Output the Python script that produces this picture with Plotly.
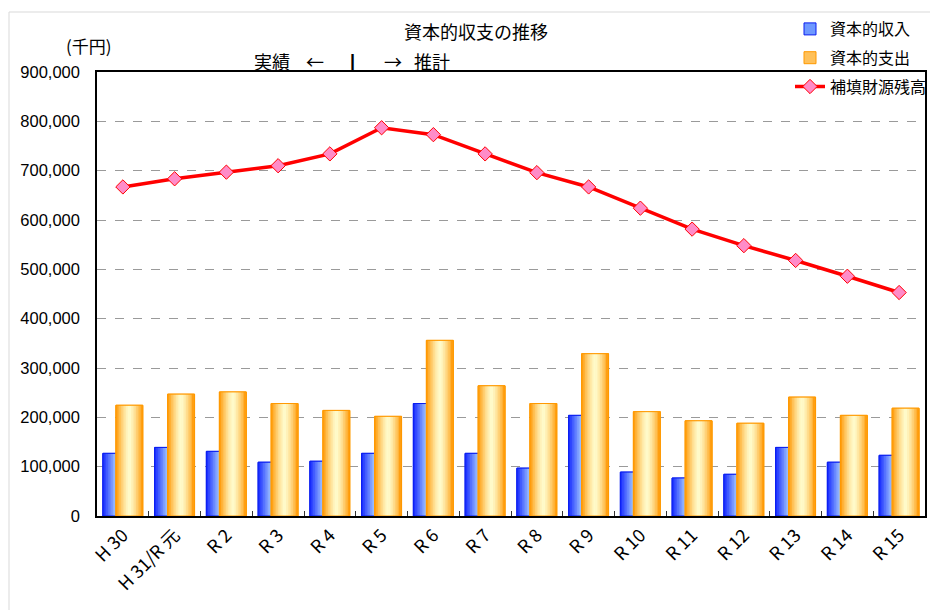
import plotly.graph_objects as go

categories = ["H 30", "H 31/R 元", "R 2", "R 3", "R 4", "R 5", "R 6", "R 7",
              "R 8", "R 9", "R 10", "R 11", "R 12", "R 13", "R 14", "R 15"]
income = [127000, 139000, 131000, 109000, 111000, 127000, 228000, 127000,
          97000, 204000, 89000, 77000, 84500, 139000, 109000, 123000]
expenditure = [224500, 247000, 251500, 228000, 214000, 202000, 356000, 264000,
               228000, 329000, 211500, 193000, 188000, 241000, 204000, 218500]
balance = [667000, 683500, 697000, 710000, 734000, 787000, 773000, 734000,
           696000, 667000, 624000, 581500, 548000, 518000, 486000, 453000]

series_names = ["資本的収入", "資本的支出", "補填財源残高"]
y_ticks = [0, 100000, 200000, 300000, 400000, 500000, 600000, 700000, 800000, 900000]

JP = "Noto Sans CJK JP"
NUM = "Liberation Sans, Arial, sans-serif"

OFF = 8  # page body margin
W, H = 938 - OFF, 610 - OFF
L, R, T, B = 97 - OFF, 925 - OFF, 72 - OFF, 516 - OFF


def px(x):
    return (x - OFF - L) / (R - L)


def py(y):
    return (B - (y - OFF)) / (B - T)


def gradient(edge, center, n, p):
    cols = []
    for i in range(n):
        t = (i + 0.5) / n
        c = abs(2 * t - 1) ** p
        rgb = [round(center[k] + (edge[k] - center[k]) * c) for k in range(3)]
        cols.append("rgb(%d,%d,%d)" % tuple(rgb))
    return cols


fig = go.Figure()

BW = 0.52
N = 16


def add_bar_series(values, name, base_off, edge, center, p, legend_col, line_col):
    fig.add_trace(go.Bar(x=categories, y=values, name=name, offset=base_off, width=BW,
                         marker=dict(color=legend_col, line=dict(color=line_col, width=1)),
                         legendgroup=name))
    cols = gradient(edge, center, N, p)
    sw = BW / N
    for i, c in enumerate(cols):
        w = sw + (0.012 if i < N - 1 else 0)
        fig.add_trace(go.Bar(x=categories, y=values, offset=base_off + i * sw, width=w,
                             marker=dict(color=c, line=dict(width=0)),
                             showlegend=False, hoverinfo="skip", legendgroup=name))
    fig.add_trace(go.Bar(x=categories, y=values, offset=base_off, width=BW,
                         marker=dict(color="rgba(0,0,0,0)", line=dict(color=line_col, width=1)),
                         showlegend=False, hoverinfo="skip", legendgroup=name))


add_bar_series(income, series_names[0], -0.387, (20, 40, 255), (168, 206, 255), 1.0,
               "#6E98FF", "#0A1EF0")
add_bar_series(expenditure, series_names[1], -0.135, (255, 150, 0), (255, 252, 205), 1.4,
               "#FFC15A", "#FF9900")

fig.add_trace(go.Scatter(x=categories, y=balance, name=series_names[2], mode="lines+markers",
                         line=dict(color="#FF0000", width=3.5),
                         marker=dict(symbol="diamond", size=11, color="#FF8CC8",
                                     line=dict(color="#FF0000", width=1)),
                         legendgroup=series_names[2]))


def label(text, x, y, anchor="left", size=18, family=JP, weight="normal"):
    return dict(text=text, x=px(x), y=py(y), xref="paper", yref="paper",
                xanchor=anchor, yanchor="middle", showarrow=False,
                font=dict(family=family, size=size, color="black", weight=weight))


fig.update_layout(
    width=W, height=H,
    margin=dict(l=L, r=W - R, t=T, b=H - B, pad=0, autoexpand=False),
    paper_bgcolor="white", plot_bgcolor="white",
    barmode="overlay",
    font=dict(family=NUM, size=14, color="black"),
    showlegend=True,
    legend=dict(x=px(790), y=py(12), xanchor="left", yanchor="top",
                bgcolor="rgba(0,0,0,0)", borderwidth=0,
                font=dict(family=JP, size=16, color="black"),
                tracegroupgap=5, itemwidth=30),
    xaxis=dict(type="category", range=[-0.5, 15.5], showline=True, mirror=True,
               linecolor="black", linewidth=1.5, ticks="inside", tickson="boundaries",
               ticklen=5, tickcolor="#333", tickangle=-45, showgrid=False,
               automargin=False,
               tickfont=dict(family=JP, size=18, color="black")),
    yaxis=dict(range=[0, 900000], tickvals=y_ticks, tickformat=",d", showline=True,
               mirror=True, linecolor="black", linewidth=1.5, showgrid=True,
               gridcolor="#9a9a9a", griddash="dash", gridwidth=1, ticks="",
               ticklabelstandoff=12, zeroline=False, automargin=False,
               tickfont=dict(family=NUM, size=16.5, color="black")),
    annotations=[
        label("資本的収支の推移", 476, 31, "center", 18),
        label("(千円)", 64, 45, "left", 17),
        label("実績", 252, 61),
        label("←", 304, 61),
        label("|", 352, 61, "center", 18, NUM, "bold"),
        label("→", 382, 61),
        label("推計", 412, 61),
    ],
    shapes=[
        dict(type="rect", xref="paper", yref="paper", x0=px(9), x1=px(960), y0=py(640),
             y1=py(12), line=dict(color="#d9d9d9", width=1), fillcolor="rgba(0,0,0,0)",
             layer="below"),
    ],
)

fig.write_html("out.html")
